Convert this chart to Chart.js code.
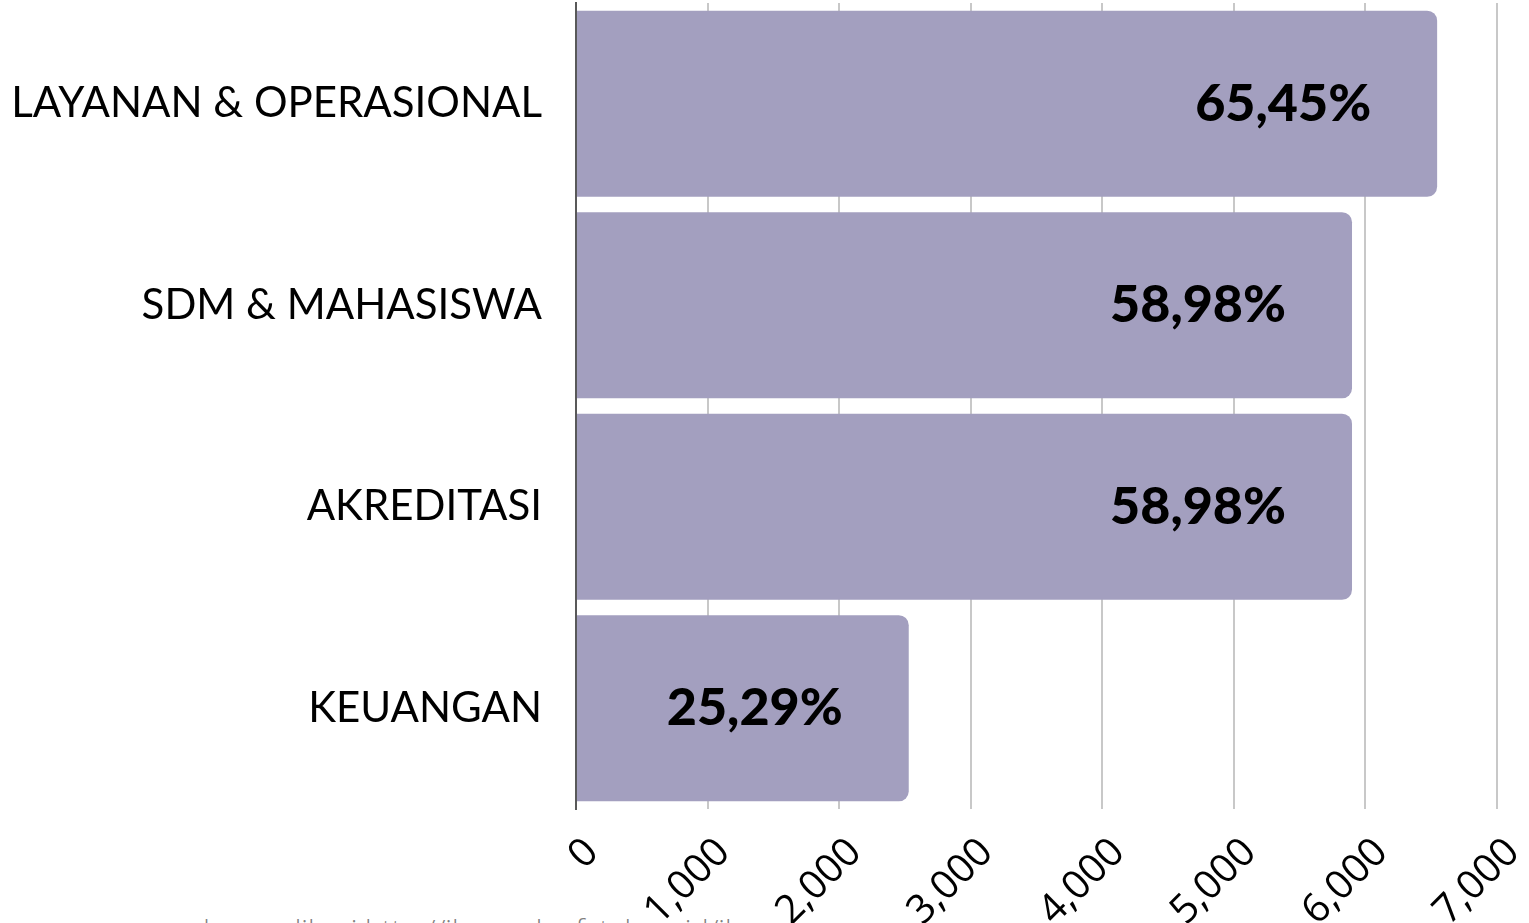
<!DOCTYPE html>
<html>
<head>
<meta charset="utf-8">
<script src="https://cdn.jsdelivr.net/npm/chart.js@4/dist/chart.umd.min.js"></script>
<style>
html,body{margin:0;padding:0;background:#fff;overflow:hidden;}
#wrap{position:relative;width:1529px;height:923px;overflow:hidden;}
#src{position:absolute;left:147px;top:916px;font-family:"Open Sans";font-weight:300;font-size:29px;line-height:28px;color:#7f7f7f;white-space:nowrap;width:615px;overflow:hidden;}
canvas{position:absolute;left:0;top:0;}
</style>
</head>
<body>
<div id="wrap">
<div id="src">sumber: aplikasi http://ikm.radenfatah.ac.id/ikm</div>
<canvas id="c" width="1529" height="923"></canvas>
</div>
<script>
const categories = ['LAYANAN & OPERASIONAL', 'SDM & MAHASISWA', 'AKREDITASI', 'KEUANGAN'];
const values = [6545, 5898, 5898, 2529];
const pctLabels = ['65,45%', '58,98%', '58,98%', '25,29%'];
const xMin = 0, xMax = 7000, xStep = 1000;

const labelPlugin = {
  id: 'pctLabels',
  afterDatasetsDraw(chart) {
    const ctx = chart.ctx;
    const meta = chart.getDatasetMeta(0);
    ctx.save();
    ctx.font = '900 52px Lato';
    ctx.fillStyle = '#000';
    ctx.textAlign = 'right';
    ctx.textBaseline = 'middle';
    meta.data.forEach((bar, i) => {
      ctx.fillText(pctLabels[i], bar.x - 66, bar.y);
    });
    ctx.restore();
  }
};

new Chart(document.getElementById('c'), {
  type: 'bar',
  data: {
    labels: categories,
    datasets: [{
      data: values,
      backgroundColor: '#a39fbf',
      borderRadius: 10,
      borderSkipped: 'start',
      barPercentage: 0.924,
      categoryPercentage: 1.0
    }]
  },
  options: {
    indexAxis: 'y',
    responsive: false,
    animation: false,
    layout: { padding: { top: 3, right: 32, left: 0, bottom: 0 } },
    plugins: { legend: { display: false }, tooltip: { enabled: false } },
    scales: {
      x: {
        min: xMin, max: xMax,
        ticks: {
          stepSize: xStep,
          maxRotation: 45, minRotation: 45,
          color: '#000',
          font: { family: 'Open Sans', size: 40 },
          padding: 20,
          labelOffset: 16,
          callback: v => v.toLocaleString('en-US')
        },
        grid: { color: '#c8c8c8', lineWidth: 2, drawTicks: false },
        border: { display: false },
        afterFit(s) { s.height = 114; s.paddingLeft = 0; s.paddingRight = 0; }
      },
      y: {
        ticks: {
          color: '#000',
          font: { family: 'Lato', size: 42 },
          padding: 26
        },
        grid: { display: false },
        border: { display: true, color: '#595959', width: 2 },
        afterFit(s) { s.width = 576; s.paddingTop = 0; s.paddingBottom = 0; }
      }
    }
  },
  plugins: [labelPlugin]
});
</script>
</body>
</html>
